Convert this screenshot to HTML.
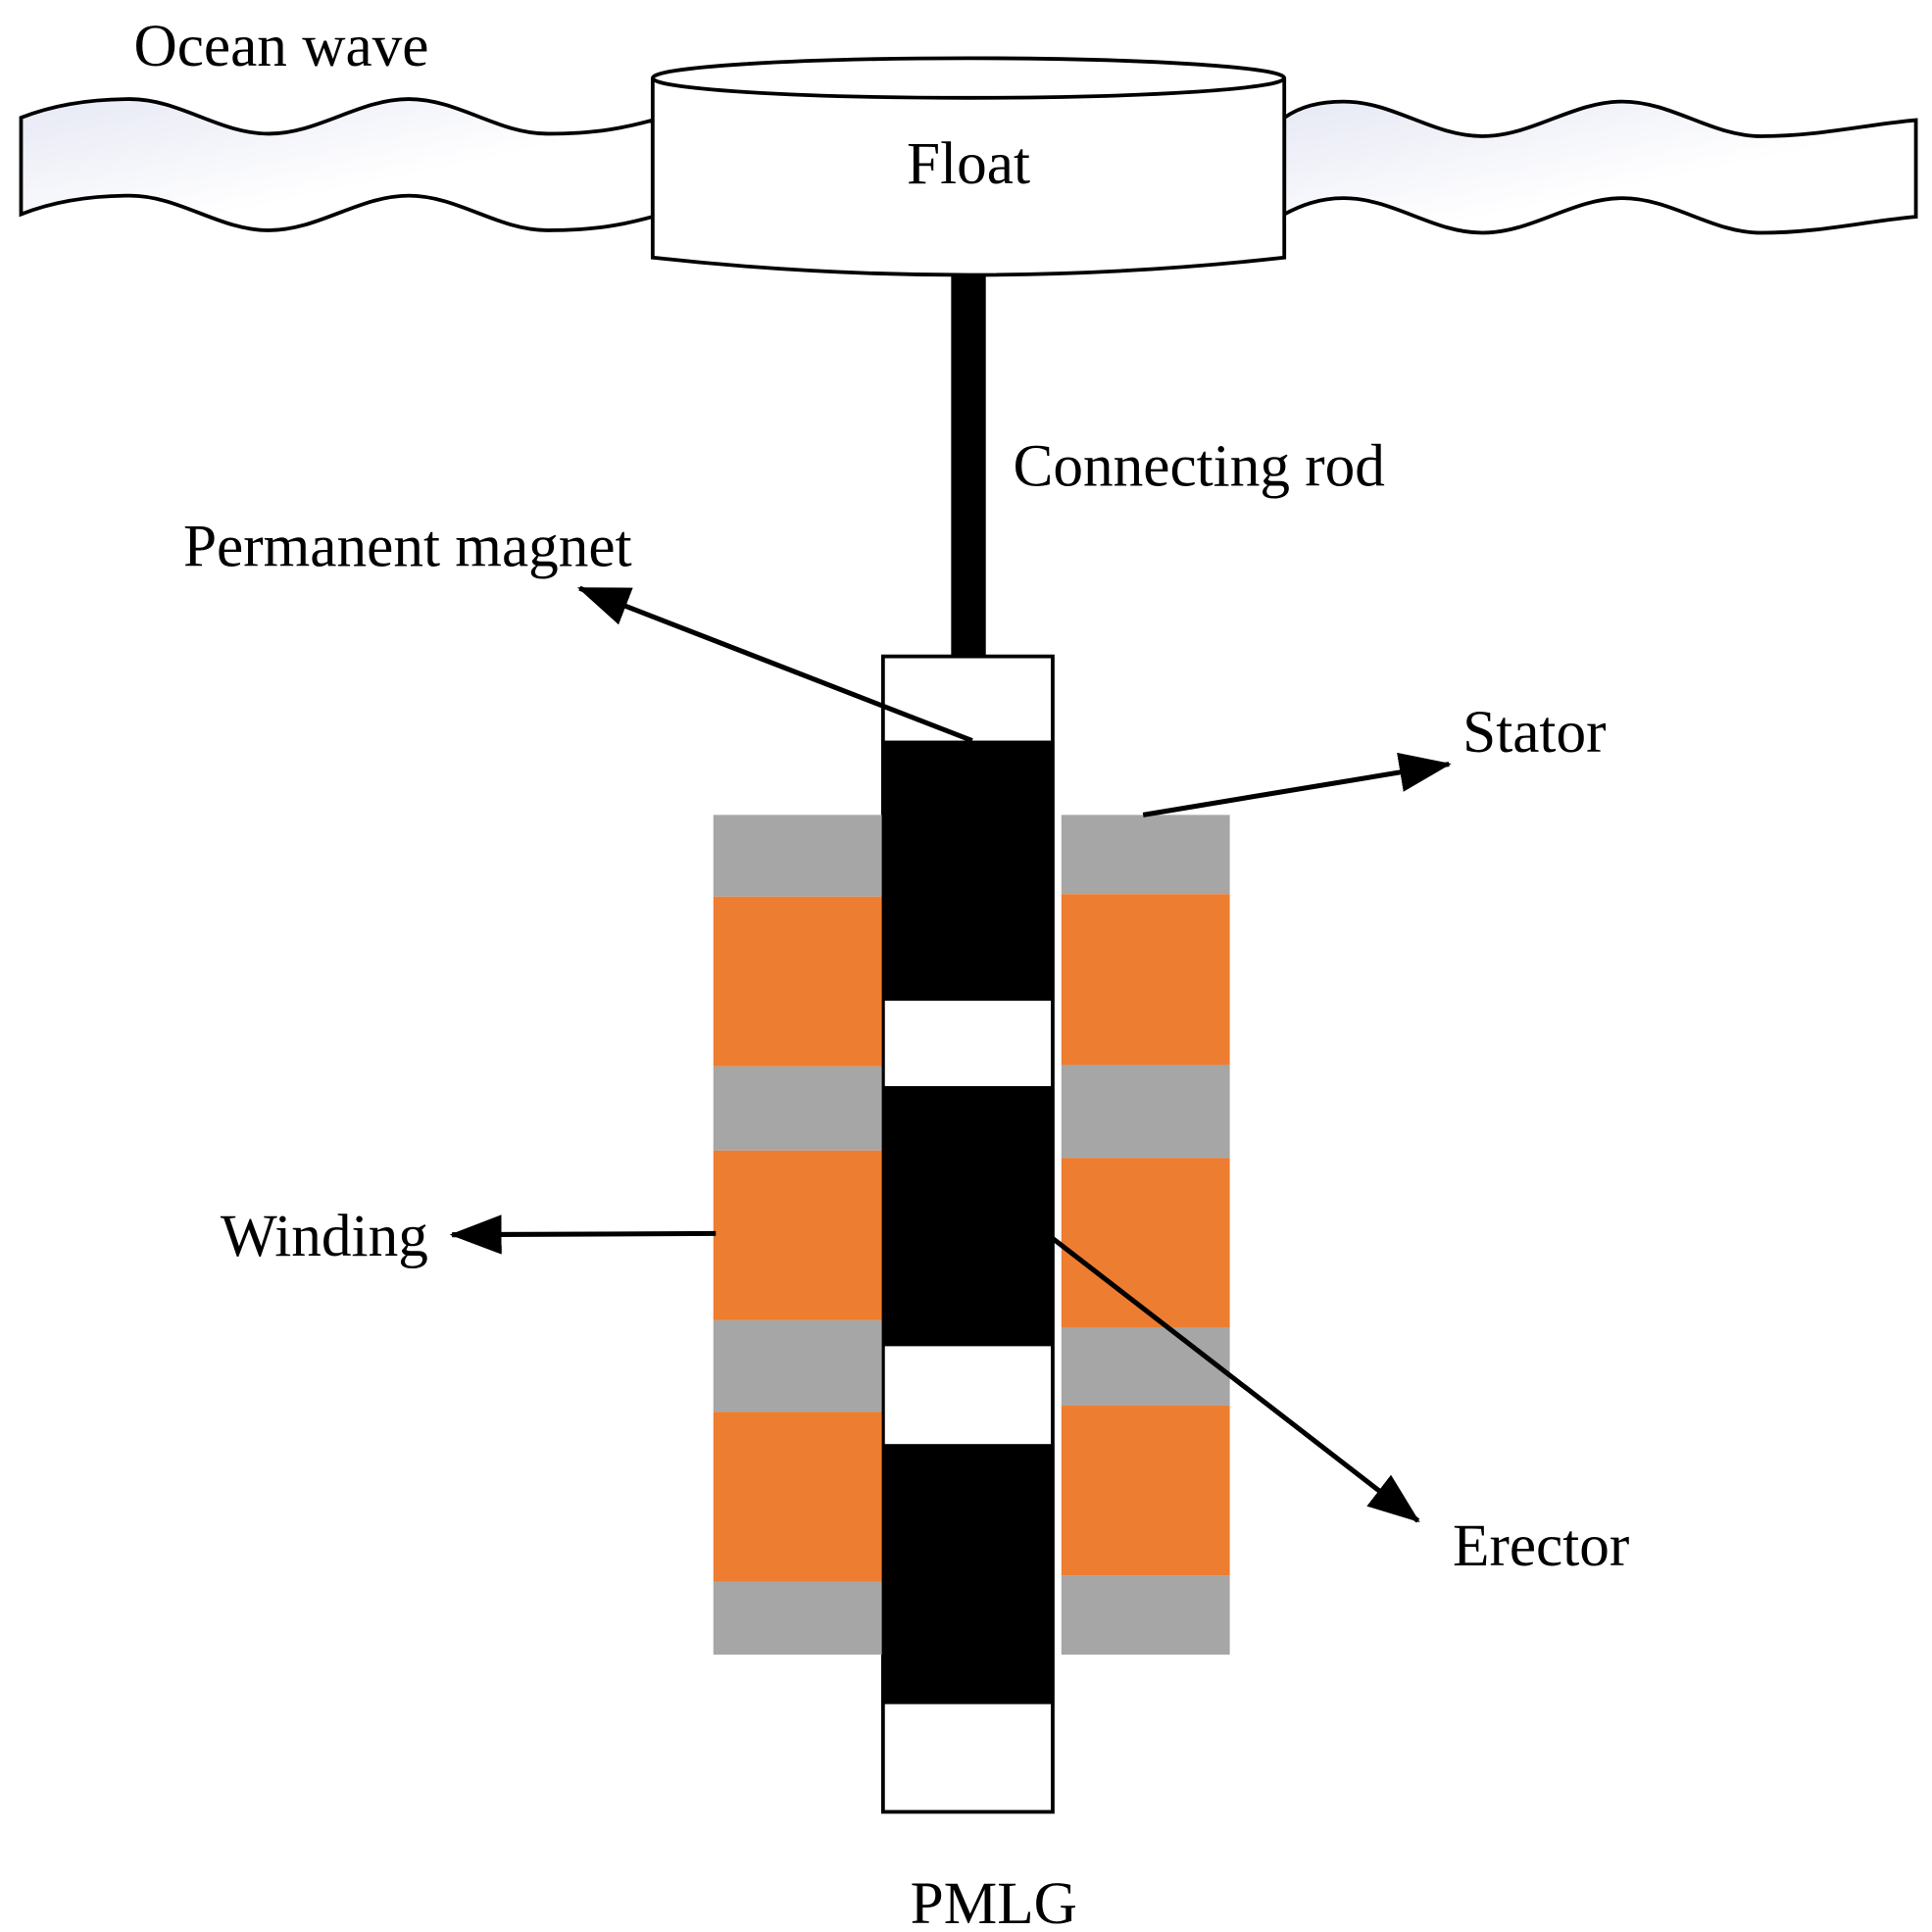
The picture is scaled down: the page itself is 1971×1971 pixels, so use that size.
<!DOCTYPE html>
<html><head><style>html,body{margin:0;padding:0;background:#fff}svg{display:block}</style></head><body>
<svg width="1971" height="1971" viewBox="0 0 1560 1560" xmlns="http://www.w3.org/2000/svg" font-family="'Liberation Serif', serif" font-size="48.5">
<defs>
<linearGradient id="g" x1="0" y1="0" x2="1" y2="1"><stop offset="0" stop-color="#e6e8f4"/><stop offset="0.6" stop-color="#fff"/></linearGradient>
<marker id="a" markerWidth="42" markerHeight="32" refX="40" refY="16" orient="auto" markerUnits="userSpaceOnUse" viewBox="0 0 42 32"><path d="M0,0L42,16L0,32Z"/></marker>
</defs>
<path d="M17,95 C45,84 75,80 105,80 C145,80 177,108 217,108 C257,108 290,80 330,80 C370,80 402,108 442,108 C482,108 505,103 527,97 L527,175 C505,181 482,186 442,186 C402,186 370,158 330,158 C290,158 257,186 217,186 C177,186 145,158 105,158 C75,158 45,162 17,173 Z" fill="url(#g)" stroke="#000" stroke-width="3"/>
<path d="M1037,95 C1050,86 1065,82 1085,82 C1125,82 1157,110 1197,110 C1237,110 1270,82 1310,82 C1350,82 1382,110 1422,110 C1470,110 1510,100 1547,97 L1547,175 C1510,178 1470,188 1422,188 C1382,188 1350,160 1310,160 C1270,160 1237,188 1197,188 C1157,188 1125,160 1085,160 C1065,160 1050,166 1037,173 Z" fill="url(#g)" stroke="#000" stroke-width="3"/>
<path d="M527,63 L527,208 Q782,236 1037,208 L1037,63" fill="#fff" stroke="#000" stroke-width="3"/>
<ellipse cx="782" cy="63" rx="255" ry="16" fill="#fff" stroke="#000" stroke-width="3"/>
<text x="782" y="148" text-anchor="middle">Float</text>
<rect x="768" y="222" width="28" height="310" fill="#000"/>
<rect x="713" y="530" width="137" height="933" fill="#fff" stroke="#000" stroke-width="3"/>
<rect x="713" y="598" width="137" height="210" fill="#000"/>
<rect x="713" y="877" width="137" height="210" fill="#000"/>
<rect x="713" y="1166" width="137" height="210" fill="#000"/>
<g fill="#a6a6a6">
<rect x="576" y="658" width="136" height="66"/><rect x="576" y="861" width="136" height="68"/><rect x="576" y="1066" width="136" height="74"/><rect x="576" y="1277" width="136" height="59"/>
<rect x="857" y="658" width="136" height="64"/><rect x="857" y="860" width="136" height="75"/><rect x="857" y="1072" width="136" height="63"/><rect x="857" y="1272" width="136" height="64"/>
</g>
<g fill="#ed7d31">
<rect x="576" y="724" width="136" height="137"/><rect x="576" y="929" width="136" height="137"/><rect x="576" y="1140" width="136" height="137"/>
<rect x="857" y="722" width="136" height="138"/><rect x="857" y="935" width="136" height="137"/><rect x="857" y="1135" width="136" height="137"/>
</g>
<g stroke="#000" stroke-width="4" marker-end="url(#a)" fill="none">
<line x1="785" y1="598" x2="468" y2="475"/>
<line x1="923" y1="658" x2="1170" y2="617"/>
<line x1="578" y1="996" x2="365" y2="997"/>
<line x1="850" y1="1000" x2="1145" y2="1228"/>
</g>
<text x="108" y="53">Ocean wave</text>
<text x="818" y="392">Connecting rod</text>
<text x="148" y="457">Permanent magnet</text>
<text x="1181" y="607">Stator</text>
<text x="178" y="1014">Winding</text>
<text x="1173" y="1264">Erector</text>
<text x="735" y="1553">PMLG</text>
</svg>
</body></html>
